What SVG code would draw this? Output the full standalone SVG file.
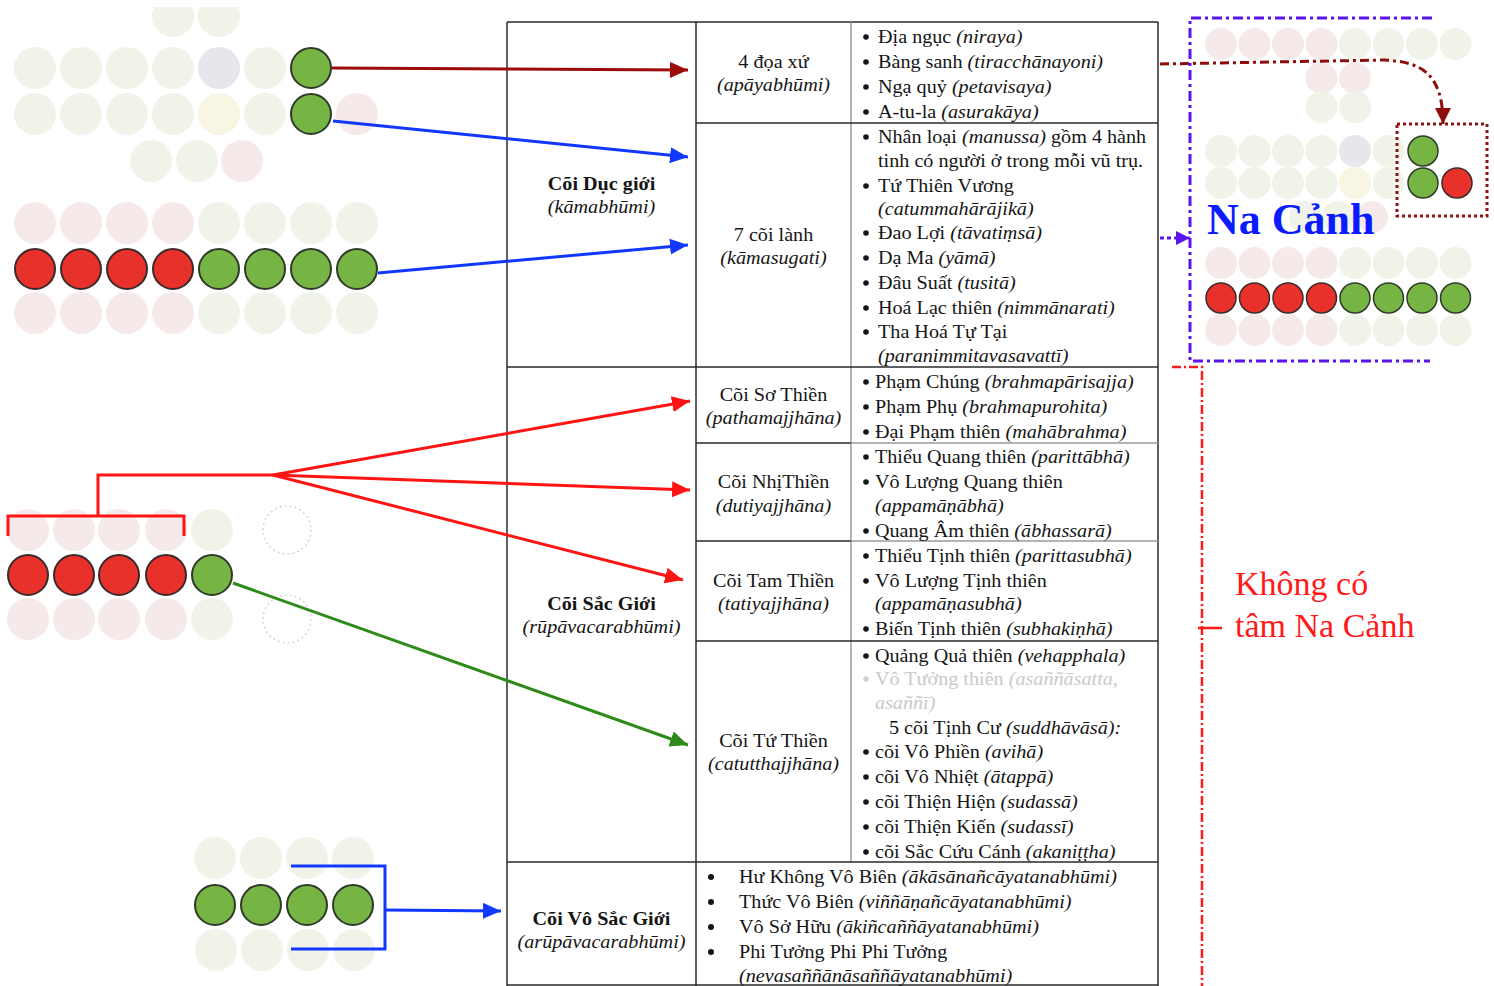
<svg xmlns="http://www.w3.org/2000/svg" width="1494" height="986" viewBox="0 0 1494 986">
<style>
.t{font-family:"Liberation Serif","Times New Roman",serif;font-size:18px;fill:#151515}
.b{font-weight:bold}
.i{font-style:italic}
.c{text-anchor:middle}
.dot{fill:#151515}
.fade{fill:#c9c9c9}
.R{fill:#e8312b;stroke:#3a2a2a;stroke-width:2}
.G{fill:#76b443;stroke:#2f3a2a;stroke-width:2}
.fp{fill:#f6e9ea}
.fg{fill:#f0f4e8}
.fq{fill:#e6e6ec}
.fy{fill:#f8f5e3}
.dc{fill:none;stroke:#cdd8e0;stroke-width:1.5;stroke-dasharray:2 3}
.tb{stroke:#2a2a2a;stroke-width:1.5;fill:none}
.tg{stroke:#9a9a9a;stroke-width:1.5;fill:none}
.cn{fill:none;stroke-width:3}
</style>
<defs>
<clipPath id="topclip"><rect x="0" y="7" width="500" height="400"/></clipPath>
<marker id="ahDR" markerUnits="userSpaceOnUse" markerWidth="18" markerHeight="16" refX="18" refY="8" orient="auto"><path d="M0,0 L18,8 L0,16 z" fill="#9e0b0b"/></marker>
<marker id="ahB" markerUnits="userSpaceOnUse" markerWidth="18" markerHeight="16" refX="18" refY="8" orient="auto"><path d="M0,0 L18,8 L0,16 z" fill="#1238ff"/></marker>
<marker id="ahR" markerUnits="userSpaceOnUse" markerWidth="18" markerHeight="16" refX="18" refY="8" orient="auto"><path d="M0,0 L18,8 L0,16 z" fill="#ff1414"/></marker>
<marker id="ahG" markerUnits="userSpaceOnUse" markerWidth="18" markerHeight="16" refX="18" refY="8" orient="auto"><path d="M0,0 L18,8 L0,16 z" fill="#2f8a1c"/></marker>
<marker id="ahDR2" markerUnits="userSpaceOnUse" markerWidth="16" markerHeight="16" refX="16" refY="8" orient="auto"><path d="M0,0 L16,8 L0,16 z" fill="#8e0e0e"/></marker>
<marker id="ahP" markerUnits="userSpaceOnUse" markerWidth="14" markerHeight="14" refX="14" refY="7" orient="auto"><path d="M0,0 L14,7 L0,14 z" fill="#5a14f0"/></marker>
</defs>
<rect width="1494" height="986" fill="#ffffff"/>

<!-- Table frame -->
<g id="table">
<line class="tb" x1="507" y1="22" x2="1158" y2="22"/>
<line class="tb" x1="507" y1="22" x2="507" y2="986"/>
<line class="tb" x1="696" y1="22" x2="696" y2="986"/>
<line class="tg" x1="851" y1="22" x2="851" y2="862"/>
<line class="tb" x1="1158" y1="22" x2="1158" y2="986"/>
<line class="tb" x1="696" y1="123" x2="1158" y2="123"/>
<line class="tb" x1="507" y1="367" x2="1158" y2="367"/>
<line class="tb" x1="696" y1="443" x2="851" y2="443"/>
<line class="tg" x1="851" y1="443" x2="1158" y2="443"/>
<line class="tb" x1="696" y1="541" x2="851" y2="541"/>
<line class="tg" x1="851" y1="541" x2="1158" y2="541"/>
<line class="tb" x1="696" y1="641" x2="1158" y2="641"/>
<line class="tb" x1="507" y1="862" x2="1158" y2="862"/>
<line class="tb" x1="507" y1="985" x2="1158" y2="985"/>
</g>

<!-- Bullets -->
<g id="bullets">
<circle class="dot" cx="866" cy="37" r="2.8"/><circle class="dot" cx="866" cy="62" r="2.8"/><circle class="dot" cx="866" cy="87" r="2.8"/><circle class="dot" cx="866" cy="112" r="2.8"/>
<circle class="dot" cx="866" cy="137" r="2.8"/><circle class="dot" cx="866" cy="186" r="2.8"/><circle class="dot" cx="866" cy="233" r="2.8"/><circle class="dot" cx="866" cy="258" r="2.8"/><circle class="dot" cx="866" cy="283" r="2.8"/><circle class="dot" cx="866" cy="308" r="2.8"/><circle class="dot" cx="866" cy="332" r="2.8"/>
<circle class="dot" cx="866" cy="382" r="2.8"/><circle class="dot" cx="866" cy="407" r="2.8"/><circle class="dot" cx="866" cy="432" r="2.8"/>
<circle class="dot" cx="866" cy="457" r="2.8"/><circle class="dot" cx="866" cy="482" r="2.8"/><circle class="dot" cx="866" cy="531" r="2.8"/>
<circle class="dot" cx="866" cy="556" r="2.8"/><circle class="dot" cx="866" cy="581" r="2.8"/><circle class="dot" cx="866" cy="629" r="2.8"/>
<circle class="dot" cx="866" cy="656" r="2.8"/><circle cx="866" cy="679" r="2.8" fill="#d0d0d0"/>
<circle class="dot" cx="866" cy="752" r="2.8"/><circle class="dot" cx="866" cy="777" r="2.8"/><circle class="dot" cx="866" cy="802" r="2.8"/><circle class="dot" cx="866" cy="827" r="2.8"/><circle class="dot" cx="866" cy="852" r="2.8"/>
<circle class="dot" cx="711" cy="877" r="3"/><circle class="dot" cx="711" cy="902" r="3"/><circle class="dot" cx="711" cy="927" r="3"/><circle class="dot" cx="711" cy="952" r="3"/>
</g>

<!-- Column 1 -->
<g id="cell-duc-gioi" transform="translate(601.5,0) scale(1.12,1)">
<text class="t b c" x="0" y="190">Cõi Dục giới</text>
<text class="t i c" x="0" y="213">(kāmabhūmi)</text>
</g>
<g id="cell-sac-gioi" transform="translate(601.5,0) scale(1.12,1)">
<text class="t b c" x="0" y="610">Cõi Sắc Giới</text>
<text class="t i c" x="0" y="633">(rūpāvacarabhūmi)</text>
</g>
<g id="cell-vo-sac-gioi" transform="translate(601.5,0) scale(1.12,1)">
<text class="t b c" x="0" y="925">Cõi Vô Sắc Giới</text>
<text class="t i c" x="0" y="948">(arūpāvacarabhūmi)</text>
</g>

<!-- Column 2 -->
<g id="cell-doa-xu" transform="translate(773.5,0) scale(1.12,1)">
<text class="t c" x="0" y="68">4 đọa xứ</text>
<text class="t i c" x="0" y="91">(apāyabhūmi)</text>
</g>
<g id="cell-coi-lanh" transform="translate(773.5,0) scale(1.12,1)">
<text class="t c" x="0" y="241">7 cõi lành</text>
<text class="t i c" x="0" y="264">(kāmasugati)</text>
</g>
<g id="cell-so-thien" transform="translate(773.5,0) scale(1.12,1)">
<text class="t c" x="0" y="401">Cõi Sơ Thiền</text>
<text class="t i c" x="0" y="424">(pathamajjhāna)</text>
</g>
<g id="cell-nhi-thien" transform="translate(773.5,0) scale(1.12,1)">
<text class="t c" x="0" y="488">Cõi NhịThiền</text>
<text class="t i c" x="0" y="512">(dutiyajjhāna)</text>
</g>
<g id="cell-tam-thien" transform="translate(773.5,0) scale(1.12,1)">
<text class="t c" x="0" y="587">Cõi Tam Thiền</text>
<text class="t i c" x="0" y="610">(tatiyajjhāna)</text>
</g>
<g id="cell-tu-thien" transform="translate(773.5,0) scale(1.12,1)">
<text class="t c" x="0" y="747">Cõi Tứ Thiền</text>
<text class="t i c" x="0" y="770">(catutthajjhāna)</text>
</g>

<!-- Column 3 : Duc gioi -->
<g id="list-doa-xu" transform="translate(866,0) scale(1.12,1)">
<text class="t" x="10.7" y="43">Địa ngục <tspan class="i">(niraya)</tspan></text>
<text class="t" x="10.7" y="68">Bàng sanh <tspan class="i">(tiracchānayoni)</tspan></text>
<text class="t" x="10.7" y="93">Ngạ quỷ <tspan class="i">(petavisaya)</tspan></text>
<text class="t" x="10.7" y="118">A-tu-la <tspan class="i">(asurakāya)</tspan></text>
</g>
<g id="list-coi-lanh" transform="translate(866,0) scale(1.12,1)">
<text class="t" x="10.7" y="143">Nhân loại <tspan class="i">(manussa)</tspan> gồm 4 hành</text>
<text class="t" x="10.7" y="167">tinh có người ở trong mỗi vũ trụ.</text>
<text class="t" x="10.7" y="192">Tứ Thiên Vương</text>
<text class="t i" x="10.7" y="215">(catummahārājikā)</text>
<text class="t" x="10.7" y="239">Đao Lợi <tspan class="i">(tāvatiṃsā)</tspan></text>
<text class="t" x="10.7" y="264">Dạ Ma <tspan class="i">(yāmā)</tspan></text>
<text class="t" x="10.7" y="289">Đâu Suất <tspan class="i">(tusitā)</tspan></text>
<text class="t" x="10.7" y="314">Hoá Lạc thiên <tspan class="i">(nimmānarati)</tspan></text>
<text class="t" x="10.7" y="338">Tha Hoá Tự Tại</text>
<text class="t i" x="10.7" y="362">(paranimmitavasavattī)</text>
</g>

<!-- Column 3 : Sac gioi -->
<g id="list-so-thien" transform="translate(866,0) scale(1.12,1)">
<text class="t" x="8" y="388">Phạm Chúng <tspan class="i">(brahmapārisajja)</tspan></text>
<text class="t" x="8" y="413">Phạm Phụ <tspan class="i">(brahmapurohita)</tspan></text>
<text class="t" x="8" y="438">Đại Phạm thiên <tspan class="i">(mahābrahma)</tspan></text>
</g>
<g id="list-nhi-thien" transform="translate(866,0) scale(1.12,1)">
<text class="t" x="8" y="463">Thiểu Quang thiên <tspan class="i">(parittābhā)</tspan></text>
<text class="t" x="8" y="488">Vô Lượng Quang thiên</text>
<text class="t i" x="8" y="512">(appamāṇābhā)</text>
<text class="t" x="8" y="537">Quang Âm thiên <tspan class="i">(ābhassarā)</tspan></text>
</g>
<g id="list-tam-thien" transform="translate(866,0) scale(1.12,1)">
<text class="t" x="8" y="562">Thiểu Tịnh thiên <tspan class="i">(parittasubhā)</tspan></text>
<text class="t" x="8" y="587">Vô Lượng Tịnh thiên</text>
<text class="t i" x="8" y="610">(appamāṇasubhā)</text>
<text class="t" x="8" y="635">Biến Tịnh thiên <tspan class="i">(subhakiṇhā)</tspan></text>
</g>
<g id="list-tu-thien" transform="translate(866,0) scale(1.12,1)">
<text class="t" x="8" y="662">Quảng Quả thiên <tspan class="i">(vehapphala)</tspan></text>
<text class="t fade" x="8" y="685">Vô Tưởng thiên <tspan class="i">(asaññāsatta,</tspan></text>
<text class="t i fade" x="8" y="709">asaññī)</text>
<text class="t" x="20.5" y="734">5 cõi Tịnh Cư <tspan class="i">(suddhāvāsā):</tspan></text>
<text class="t" x="8" y="758">cõi Vô Phiền <tspan class="i">(avihā)</tspan></text>
<text class="t" x="8" y="783">cõi Vô Nhiệt <tspan class="i">(ātappā)</tspan></text>
<text class="t" x="8" y="808">cõi Thiện Hiện <tspan class="i">(sudassā)</tspan></text>
<text class="t" x="8" y="833">cõi Thiện Kiến <tspan class="i">(sudassī)</tspan></text>
<text class="t" x="8" y="858">cõi Sắc Cứu Cánh <tspan class="i">(akaniṭṭha)</tspan></text>
</g>

<!-- Vo sac list -->
<g id="list-vo-sac" transform="translate(711,0) scale(1.12,1)">
<text class="t" x="25" y="883">Hư Không Vô Biên <tspan class="i">(ākāsānañcāyatanabhūmi)</tspan></text>
<text class="t" x="25" y="908">Thức Vô Biên <tspan class="i">(viññāṇañcāyatanabhūmi)</tspan></text>
<text class="t" x="25" y="933">Vô Sở Hữu <tspan class="i">(ākiñcaññāyatanabhūmi)</tspan></text>
<text class="t" x="25" y="958">Phi Tưởng Phi Phi Tưởng</text>
<text class="t i" x="25" y="982">(nevasaññānāsaññāyatanabhūmi)</text>
</g>

<!-- Left cluster top -->
<g id="cluster-top">
<g clip-path="url(#topclip)">
<circle class="fg" cx="173" cy="16" r="21"/><circle class="fg" cx="219" cy="16" r="21"/>
</g>
<circle class="fg" cx="35" cy="68" r="21"/><circle class="fg" cx="81" cy="68" r="21"/><circle class="fg" cx="127" cy="68" r="21"/><circle class="fg" cx="173" cy="68" r="21"/><circle class="fq" cx="219" cy="68" r="21"/><circle class="fg" cx="265" cy="68" r="21"/>
<circle class="G" cx="311" cy="68" r="20"/>
<circle class="fg" cx="35" cy="114" r="21"/><circle class="fg" cx="81" cy="114" r="21"/><circle class="fg" cx="127" cy="114" r="21"/><circle class="fg" cx="173" cy="114" r="21"/><circle class="fy" cx="219" cy="114" r="21"/><circle class="fg" cx="265" cy="114" r="21"/>
<circle class="G" cx="311" cy="114" r="20"/><circle class="fp" cx="357" cy="114" r="21"/>
<circle class="fg" cx="151" cy="161" r="21"/><circle class="fg" cx="197" cy="161" r="21"/><circle class="fp" cx="242" cy="161" r="21"/>
</g>

<!-- Left cluster 8 -->
<g id="cluster-eight">
<circle class="fp" cx="35" cy="223" r="21"/><circle class="fp" cx="81" cy="223" r="21"/><circle class="fp" cx="127" cy="223" r="21"/><circle class="fp" cx="173" cy="223" r="21"/><circle class="fg" cx="219" cy="223" r="21"/><circle class="fg" cx="265" cy="223" r="21"/><circle class="fg" cx="311" cy="223" r="21"/><circle class="fg" cx="357" cy="223" r="21"/>
<circle class="R" cx="35" cy="269" r="20"/><circle class="R" cx="81" cy="269" r="20"/><circle class="R" cx="127" cy="269" r="20"/><circle class="R" cx="173" cy="269" r="20"/><circle class="G" cx="219" cy="269" r="20"/><circle class="G" cx="265" cy="269" r="20"/><circle class="G" cx="311" cy="269" r="20"/><circle class="G" cx="357" cy="269" r="20"/>
<circle class="fp" cx="35" cy="313" r="21"/><circle class="fp" cx="81" cy="313" r="21"/><circle class="fp" cx="127" cy="313" r="21"/><circle class="fp" cx="173" cy="313" r="21"/><circle class="fg" cx="219" cy="313" r="21"/><circle class="fg" cx="265" cy="313" r="21"/><circle class="fg" cx="311" cy="313" r="21"/><circle class="fg" cx="357" cy="313" r="21"/>
</g>

<!-- Left cluster middle (rupa) -->
<g id="cluster-rupa">
<circle class="fp" cx="28" cy="530" r="21"/><circle class="fp" cx="74" cy="530" r="21"/><circle class="fp" cx="119" cy="530" r="21"/><circle class="fp" cx="166" cy="530" r="21"/><circle class="fg" cx="212" cy="530" r="21"/>
<circle class="R" cx="28" cy="575" r="20"/><circle class="R" cx="74" cy="575" r="20"/><circle class="R" cx="119" cy="575" r="20"/><circle class="R" cx="166" cy="575" r="20"/><circle class="G" cx="212" cy="575" r="20"/>
<circle class="fp" cx="28" cy="619" r="21"/><circle class="fp" cx="74" cy="619" r="21"/><circle class="fp" cx="119" cy="619" r="21"/><circle class="fp" cx="166" cy="619" r="21"/><circle class="fg" cx="212" cy="619" r="21"/>
<circle class="dc" cx="287" cy="530" r="24"/><circle class="dc" cx="287" cy="619" r="24"/>
</g>

<!-- Bottom cluster (arupa) -->
<g id="cluster-arupa">
<circle class="fg" cx="215" cy="858" r="21"/><circle class="fg" cx="261" cy="858" r="21"/><circle class="fg" cx="307" cy="858" r="21"/><circle class="fg" cx="353" cy="858" r="21"/>
<circle class="G" cx="215" cy="905" r="20"/><circle class="G" cx="261" cy="905" r="20"/><circle class="G" cx="307" cy="905" r="20"/><circle class="G" cx="353" cy="905" r="20"/>
<circle class="fg" cx="216" cy="950" r="21"/><circle class="fg" cx="262" cy="950" r="21"/><circle class="fg" cx="308" cy="950" r="21"/><circle class="fg" cx="354" cy="950" r="21"/>
</g>

<!-- Right box: Na Canh -->
<g id="na-canh">
<circle class="fp" cx="1221" cy="44" r="16"/><circle class="fp" cx="1254.5" cy="44" r="16"/><circle class="fp" cx="1288" cy="44" r="16"/><circle class="fp" cx="1321.5" cy="44" r="16"/><circle class="fg" cx="1355" cy="44" r="16"/><circle class="fg" cx="1388.5" cy="44" r="16"/><circle class="fg" cx="1422" cy="44" r="16"/><circle class="fg" cx="1455.5" cy="44" r="16"/>
<circle class="fp" cx="1321.5" cy="78" r="16"/><circle class="fp" cx="1355" cy="78" r="16"/>
<circle class="fg" cx="1321.5" cy="107" r="16"/><circle class="fg" cx="1355" cy="107" r="16"/>
<circle class="fg" cx="1221" cy="151" r="16"/><circle class="fg" cx="1254.5" cy="151" r="16"/><circle class="fg" cx="1288" cy="151" r="16"/><circle class="fg" cx="1321.5" cy="151" r="16"/><circle class="fq" cx="1355" cy="151" r="16"/><circle class="fg" cx="1388.5" cy="151" r="16"/>
<circle class="fg" cx="1221" cy="183" r="16"/><circle class="fg" cx="1254.5" cy="183" r="16"/><circle class="fg" cx="1288" cy="183" r="16"/><circle class="fg" cx="1321.5" cy="183" r="16"/><circle class="fy" cx="1355" cy="183" r="16"/><circle class="fg" cx="1388.5" cy="183" r="16"/>
<circle class="fg" cx="1305" cy="217" r="16"/><circle class="fg" cx="1338" cy="217" r="16"/><circle class="fp" cx="1372" cy="217" r="16"/>
<circle class="G" cx="1423" cy="151" r="15" style="stroke-width:1.5"/>
<circle class="G" cx="1423" cy="183" r="15" style="stroke-width:1.5"/><circle class="R" cx="1457" cy="183" r="15" style="stroke-width:1.5"/>
<circle class="fp" cx="1221" cy="263" r="16"/><circle class="fp" cx="1254.5" cy="263" r="16"/><circle class="fp" cx="1288" cy="263" r="16"/><circle class="fp" cx="1321.5" cy="263" r="16"/><circle class="fg" cx="1355" cy="263" r="16"/><circle class="fg" cx="1388.5" cy="263" r="16"/><circle class="fg" cx="1422" cy="263" r="16"/><circle class="fg" cx="1455.5" cy="263" r="16"/>
<circle class="R" cx="1221" cy="298" r="15" style="stroke-width:1.5"/><circle class="R" cx="1254.5" cy="298" r="15" style="stroke-width:1.5"/><circle class="R" cx="1288" cy="298" r="15" style="stroke-width:1.5"/><circle class="R" cx="1321.5" cy="298" r="15" style="stroke-width:1.5"/><circle class="G" cx="1355" cy="298" r="15" style="stroke-width:1.5"/><circle class="G" cx="1388.5" cy="298" r="15" style="stroke-width:1.5"/><circle class="G" cx="1422" cy="298" r="15" style="stroke-width:1.5"/><circle class="G" cx="1455.5" cy="298" r="15" style="stroke-width:1.5"/>
<circle class="fp" cx="1221" cy="330" r="16"/><circle class="fp" cx="1254.5" cy="330" r="16"/><circle class="fp" cx="1288" cy="330" r="16"/><circle class="fp" cx="1321.5" cy="330" r="16"/><circle class="fg" cx="1355" cy="330" r="16"/><circle class="fg" cx="1388.5" cy="330" r="16"/><circle class="fg" cx="1422" cy="330" r="16"/><circle class="fg" cx="1455.5" cy="330" r="16"/>
<rect x="1397" y="124" width="90" height="92" fill="none" stroke="#8e1414" stroke-width="3" stroke-dasharray="3 3"/>
<text x="1207" y="234" style="font-family:'Liberation Serif','Times New Roman',serif;font-size:44px;font-weight:bold;fill:#0a1cff">Na Cảnh</text>
</g>

<!-- Khong co label -->
<g id="khong-co">
<text x="1235" y="595" style="font-family:'Liberation Serif','Times New Roman',serif;font-size:34px;fill:#ff1a1a">Không có</text>
<text x="1235" y="637" style="font-family:'Liberation Serif','Times New Roman',serif;font-size:34px;fill:#ff1a1a">tâm Na Cảnh</text>
</g>

<!-- Connectors -->
<g id="connectors">
<line class="cn" x1="332" y1="68" x2="688" y2="70" stroke="#9e0b0b" marker-end="url(#ahDR)"/>
<line class="cn" x1="333" y1="121" x2="688" y2="157" stroke="#1238ff" marker-end="url(#ahB)"/>
<line class="cn" x1="378" y1="273" x2="688" y2="245" stroke="#1238ff" marker-end="url(#ahB)"/>
<polyline class="cn" points="8,536 8,516 184,516 184,536" stroke="#ff1414"/>
<polyline class="cn" points="98,516 98,475 273,475" stroke="#ff1414"/>
<line class="cn" x1="273" y1="475" x2="690" y2="401" stroke="#ff1414" marker-end="url(#ahR)"/>
<line class="cn" x1="273" y1="475" x2="690" y2="490" stroke="#ff1414" marker-end="url(#ahR)"/>
<line class="cn" x1="273" y1="475" x2="683" y2="580" stroke="#ff1414" marker-end="url(#ahR)"/>
<line class="cn" x1="233" y1="583" x2="688" y2="745" stroke="#2f8a1c" marker-end="url(#ahG)"/>
<polyline class="cn" points="291,866 385,866 385,949 291,949" stroke="#1238ff"/>
<line class="cn" x1="385" y1="910" x2="501" y2="911" stroke="#1238ff" marker-end="url(#ahB)"/>
<path class="cn" d="M1160,64 L1385,60 C1420,62 1443,72 1443,124" stroke="#8e0e0e" stroke-dasharray="9 4 3 4" marker-end="url(#ahDR2)"/>
<path class="cn" d="M1432,18 H1190 V361 H1430" stroke="#5a14f0" stroke-dasharray="10 4 3 4"/>
<line class="cn" x1="1160" y1="238" x2="1190" y2="238" stroke="#5a14f0" stroke-dasharray="4 3" marker-end="url(#ahP)"/>
<path d="M1172,367 H1202 V986" fill="none" stroke="#ff1a1a" stroke-width="2.5" stroke-dasharray="9 3 2 3"/>
<line x1="1198" y1="628" x2="1222" y2="628" stroke="#ff1a1a" stroke-width="2.5"/>
</g>
</svg>
